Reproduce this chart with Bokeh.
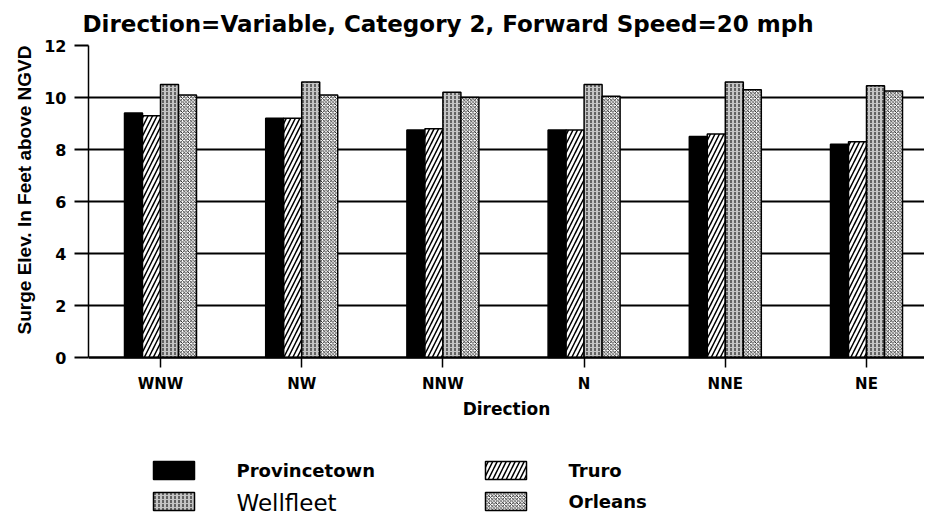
from bokeh.plotting import figure
from bokeh.models import Range1d, FixedTicker, Title
from bokeh.core.properties import value
from bokeh.embed import file_html
from bokeh.resources import INLINE

# ---- data ----
directions = ["WNW", "NW", "NNW", "N", "NNE", "NE"]
series = ["Provincetown", "Truro", "Wellfleet", "Orleans"]
provincetown = [9.4, 9.2, 8.75, 8.75, 8.5, 8.2]
truro = [9.3, 9.2, 8.8, 8.75, 8.6, 8.3]
wellfleet = [10.5, 10.6, 10.2, 10.5, 10.6, 10.45]
orleans = [10.1, 10.1, 10.0, 10.05, 10.3, 10.25]
y_ticks = [0, 2, 4, 6, 8, 10, 12]
y_label = "Surge Elev. In Feet above NGVD"

values = [provincetown, truro, wellfleet, orleans]

# ---- styles ----
fills = ["black", "white", "#c4c4c4", "white"]
hatches = [None, "/", ":", "x"]
hatch_scales = [1, 9, 4, 3.5]
hatch_weights = [1, 1.5, 1, 0.8]
BOLD = "DejaVu Sans"

W, H = 924, 518
LEFT, TOP = 88, 45
px_per_cat = 141.2
px_per_unit = 26.0
frame_w = W - LEFT
frame_h = H - TOP
x0 = 0.5 - 72 / px_per_cat
y_top = 12
y_bot = y_top - frame_h / px_per_unit

p = figure(width=W, height=H, output_backend="svg", toolbar_location=None,
           x_range=Range1d(x0, x0 + frame_w / px_per_cat),
           y_range=Range1d(y_bot, y_top),
           min_border_left=LEFT, min_border_right=0, min_border_top=TOP,
           min_border_bottom=0)
p.outline_line_color = None
p.background_fill_color = "white"
p.border_fill_color = "white"

bw = 18 / px_per_cat
for k, (name, vals) in enumerate(zip(series, values)):
    xs = [i + 0.5 + (k - 1.5) * bw for i in range(len(directions))]
    kw = dict(x=xs, top=vals, bottom=0, width=bw, fill_color=fills[k],
              line_color="black", line_width=1.5)
    if hatches[k]:
        kw.update(hatch_pattern=hatches[k], hatch_color="black",
                  hatch_scale=hatch_scales[k], hatch_weight=hatch_weights[k])
    p.vbar(**kw)

p.xgrid.visible = False
p.ygrid.ticker = FixedTicker(ticks=y_ticks)
p.ygrid.grid_line_color = "black"
p.ygrid.grid_line_width = 2

xa = p.xaxis[0]
xa.fixed_location = 0
xa.ticker = FixedTicker(ticks=[i + 0.5 for i in range(len(directions))])
xa.major_label_overrides = {i + 0.5: d for i, d in enumerate(directions)}
xa.minor_tick_line_color = None
xa.major_tick_in = 0
xa.major_tick_out = 10
xa.major_tick_line_width = 1.5
xa.axis_line_width = 2
xa.major_label_standoff = 7
xa.major_label_text_font = BOLD
xa.major_label_text_font_style = "bold"
xa.major_label_text_font_size = "15px"
xa.major_label_text_color = "black"
xa.axis_label = "Direction"
xa.axis_label_text_font = BOLD
xa.axis_label_text_font_style = "bold"
xa.axis_label_text_font_size = "17px"
xa.axis_label_text_color = "black"
xa.axis_label_standoff = 3

ya = p.yaxis[0]
ya.bounds = (0, 12)
ya.ticker = FixedTicker(ticks=y_ticks)
ya.minor_tick_line_color = None
ya.major_tick_in = 0
ya.major_tick_out = 14
ya.major_tick_line_width = 2
ya.axis_line_width = 1.5
ya.major_label_standoff = 8
ya.major_label_text_font = BOLD
ya.major_label_text_font_style = "bold"
ya.major_label_text_font_size = "16px"
ya.major_label_text_color = "black"

# y axis title, placed in the left panel and aligned to the top of the frame
p.add_layout(Title(text=y_label, align="right", offset=0, standoff=13,
                   text_font="Liberation Sans", text_font_style="bold",
                   text_font_size="19px", text_color="black"), "left")

p.title = Title(text="Direction=Variable, Category 2, Forward Speed=20 mph",
                text_font=BOLD, text_font_style="bold", text_font_size="23px",
                text_color="black", align="left", offset=-6, standoff=17)

def px_x(px):
    return x0 + (px - LEFT) / px_per_cat

def px_y(py):
    return y_top - (py - TOP) / px_per_unit

# ---- legend (drawn below the axis, positioned in pixels of the frame) ----
col_box = [153, 485]
col_txt = [236, 568]
row_top = [461, 492]
for k, name in enumerate(series):
    r, c = divmod(k, 2)
    kw = dict(left=[px_x(col_box[c])], right=[px_x(col_box[c] + 41)],
              top=[px_y(row_top[r])], bottom=[px_y(row_top[r] + 18)],
              fill_color=fills[k], line_color="black", line_width=1.5)
    if hatches[k]:
        kw.update(hatch_pattern=hatches[k], hatch_color="black",
                  hatch_scale=hatch_scales[k], hatch_weight=hatch_weights[k])
    p.quad(**kw)
    if name == "Wellfleet":
        p.text(x=[px_x(col_txt[c])], y=[px_y(row_top[r] + 10)], text=[name],
               text_font=value("DejaVu Sans"), text_font_size="23px",
               text_baseline="middle", text_color="black")
    else:
        p.text(x=[px_x(col_txt[c])], y=[px_y(row_top[r] + 9)], text=[name],
               text_font=value(BOLD), text_font_style="bold", text_font_size="18px",
               text_baseline="middle", text_color="black")

open("out.html", "w").write(file_html(p, INLINE))
